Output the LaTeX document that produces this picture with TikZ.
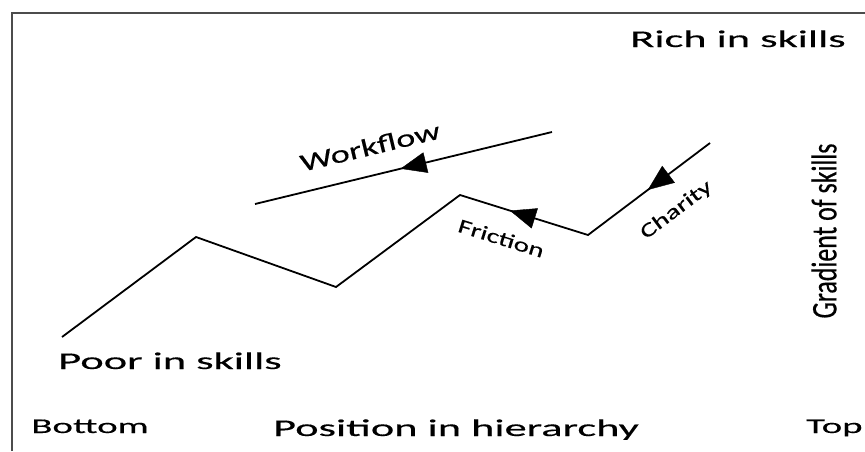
\documentclass[tikz,border=0pt]{standalone}
\usepackage{fontspec}
\usetikzlibrary{arrows.meta,decorations.markings}
\newfontfamily\widefont[FakeStretch=1.85,FakeBold=0.4]{Carlito}
\newfontfamily\midfont[FakeStretch=1.45,FakeBold=0.3]{Carlito}
\newfontfamily\tallfont[FakeStretch=0.72,FakeBold=0.4]{Carlito}

\begin{document}
\begin{tikzpicture}[x=1pt,y=-1pt,>={Triangle[length=26pt,width=21pt]},
        wire/.style={line width=1.8pt},
        flowtip/.style={postaction={decorate},decoration={markings,mark=at position #1 with {\arrow{>}}}},
        lbl/.style={font=\widefont\fontsize{24}{28}\selectfont,inner sep=0pt},
        small/.style={font=\midfont\fontsize{20}{24}\selectfont,inner sep=0pt}]
        \useasboundingbox (0,0) rectangle (865,451);
        \draw[line width=1.4pt,black!70] (12,451) -- (12,13) -- (865,13);
        \coordinate (s0) at (62,337);
        \coordinate (s1) at (196,237);
        \coordinate (s2) at (336,287);
        \coordinate (s3) at (460,195);
        \coordinate (s4) at (588,235);
        \coordinate (s5) at (710,143);
        \coordinate (w0) at (255,204);
        \coordinate (w1) at (552,132);
        \draw[wire] (s0) -- (s1) -- (s2) -- (s3)
            -- node[small,sloped,below=21pt,pos=0.39] (friction) {Friction} (s4)
            -- node[small,sloped,below=24pt,pos=0.56] (charity) {Charity} (s5);
        \draw[wire] (w0) -- node[lbl,font=\midfont\fontsize{25}{28}\selectfont,sloped,above=19pt,pos=0.41] (workflow) {Workflow} (w1);
        \path[flowtip=0.51] (w1) -- (w0);
        \path[flowtip=0.61] (s4) -- (s3);
        \path[flowtip=0.51] (s5) -- (s4);
        \node[lbl,anchor=base] (rich) at (738,47) {Rich in skills};
        \node[lbl,anchor=base] (poor) at (170,369) {Poor in skills};
        \node[lbl,anchor=base] (position) at (456,436) {Position in hierarchy};
        \node[lbl,font=\widefont\fontsize{21}{24}\selectfont,anchor=base] (bottom) at (90,433) {Bottom};
        \node[lbl,font=\widefont\fontsize{21}{24}\selectfont,anchor=base west] (top) at (806,433) {Top};
        \node[font=\tallfont\fontsize{36}{40}\selectfont,rotate=90,inner sep=0pt] (gradient) at (824,231) {Gradient of skills};
    \end{tikzpicture}
\end{document}
